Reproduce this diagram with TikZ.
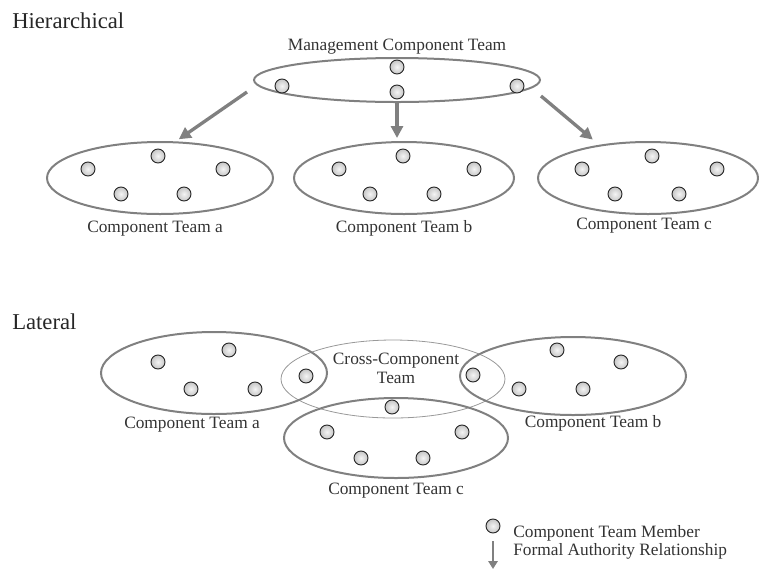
\documentclass[tikz,border=0pt]{standalone}
\usepackage{fontspec}
\setmainfont{Liberation Serif}
\usetikzlibrary{shapes.geometric, arrows.meta}

\tikzset{
	teamellipse/.style={ellipse, draw=black!50, line width=1.5pt, inner sep=0pt, outer sep=0pt},
	crossellipse/.style={ellipse, draw=black!40, line width=0.6pt, inner sep=0pt, outer sep=0pt},
	member/.style={circle, draw=black!85, line width=0.7pt, minimum size=10.5pt, inner sep=0pt,
		inner color=gray!8, outer color=gray!45},
	authority/.style={draw=black!50, line width=2.5pt, -{Triangle[length=9pt, width=9pt]}},
	label/.style={font=\fontsize{13}{15}\selectfont, text=black!80, inner sep=0pt},
	heading/.style={font=\fontsize{17}{20}\selectfont, text=black!85, inner sep=0pt, anchor=base west}
}

\begin{document}
\begin{tikzpicture}[x=0.75pt, y=-0.75pt]
		\useasboundingbox (0,0) rectangle (759,569);
		
		% Headings
		\node[heading] (hier) at (12,28) {Hierarchical};
		\node[heading] (lat) at (12,329) {Lateral};
		
		% Hierarchical teams
		\node[teamellipse, minimum width=214.5pt, minimum height=33pt] (mgmt) at (397,80) {};
		\node[teamellipse, minimum width=169.5pt, minimum height=54pt] (teamA) at (160,178) {};
		\node[teamellipse, minimum width=165pt, minimum height=54pt] (teamB) at (404,178) {};
		\node[teamellipse, minimum width=165pt, minimum height=54pt] (teamC) at (648,178) {};
		
		\node[label, anchor=base] (mgmt-text) at (397,50) {Management Component Team};
		\node[label, anchor=base] (teamA-text) at (155,232) {Component Team a};
		\node[label, anchor=base] (teamB-text) at (404,232) {Component Team b};
		\node[label, anchor=base] (teamC-text) at (644,229) {Component Team c};
		
		% Members of the hierarchical teams
		\foreach \n/\x/\y in {1/282/86, 2/397/67, 3/397/92, 4/517/86}
			\node[member] (mgmt-\n) at (\x,\y) {};
		\foreach \n/\x/\y in {1/88/169, 2/158/156, 3/223/169, 4/121/194, 5/184/194}
			\node[member] (teamA-\n) at (\x,\y) {};
		\foreach \n/\x/\y in {1/339/169, 2/403/156, 3/474/169, 4/370/194, 5/434/194}
			\node[member] (teamB-\n) at (\x,\y) {};
		\foreach \n/\x/\y in {1/582/169, 2/652/156, 3/717/169, 4/615/194, 5/679/194}
			\node[member] (teamC-\n) at (\x,\y) {};
		
		% Formal authority
		\coordinate (fromA) at (247,92);
		\coordinate (fromC) at (541,96);
		\draw[authority, shorten >=4pt] (fromA) -- (teamA.68);
		\draw[authority, shorten <=1pt, shorten >=3pt] (mgmt.south) -- (mgmt.south |- teamB.north);
		\draw[authority, shorten >=7pt] (fromC) -- (teamC.146);
		
		% Lateral teams
		\node[crossellipse, minimum width=168pt, minimum height=58.5pt] (cross) at (393,379) {};
		\node[teamellipse, minimum width=169.5pt, minimum height=61.5pt] (latA) at (214,373) {};
		\node[teamellipse, minimum width=169.5pt, minimum height=58.5pt] (latB) at (573,376) {};
		\node[teamellipse, minimum width=168pt, minimum height=60pt] (latC) at (396,438) {};
		
		\node[label, anchor=base, align=center] (cross-text) at (396,383) {Cross-Component\\[-1pt]Team};
		\node[label, anchor=base] (latA-text) at (192,428) {Component Team a};
		\node[label, anchor=base] (latB-text) at (593,427) {Component Team b};
		\node[label, anchor=base] (latC-text) at (396,494) {Component Team c};
		
		% Members of the lateral teams
		\foreach \n/\x/\y in {1/158/362, 2/229/350, 3/191/389, 4/255/389, 5/306/376}
			\node[member] (latA-\n) at (\x,\y) {};
		\foreach \n/\x/\y in {1/557/350, 2/621/362, 3/519/389, 4/583/389, 5/473/375}
			\node[member] (latB-\n) at (\x,\y) {};
		\foreach \n/\x/\y in {1/327/432, 2/462/432, 3/361/458, 4/423/458, 5/392/407}
			\node[member] (latC-\n) at (\x,\y) {};
		
		% Legend
		\node[member] (key-member) at (493,526) {};
		\node[label, anchor=west] (key-member-text) at (513,533) {Component Team Member};
		\coordinate (key-top) at (493,541);
		\coordinate (key-bottom) at (493,569);
		\draw[authority, line width=2.2pt, -{Triangle[length=6pt, width=7pt]}] (key-top) -- (key-bottom);
		\node[label, anchor=west] (key-arrow-text) at (513,551) {Formal Authority Relationship};
	\end{tikzpicture}
\end{document}
